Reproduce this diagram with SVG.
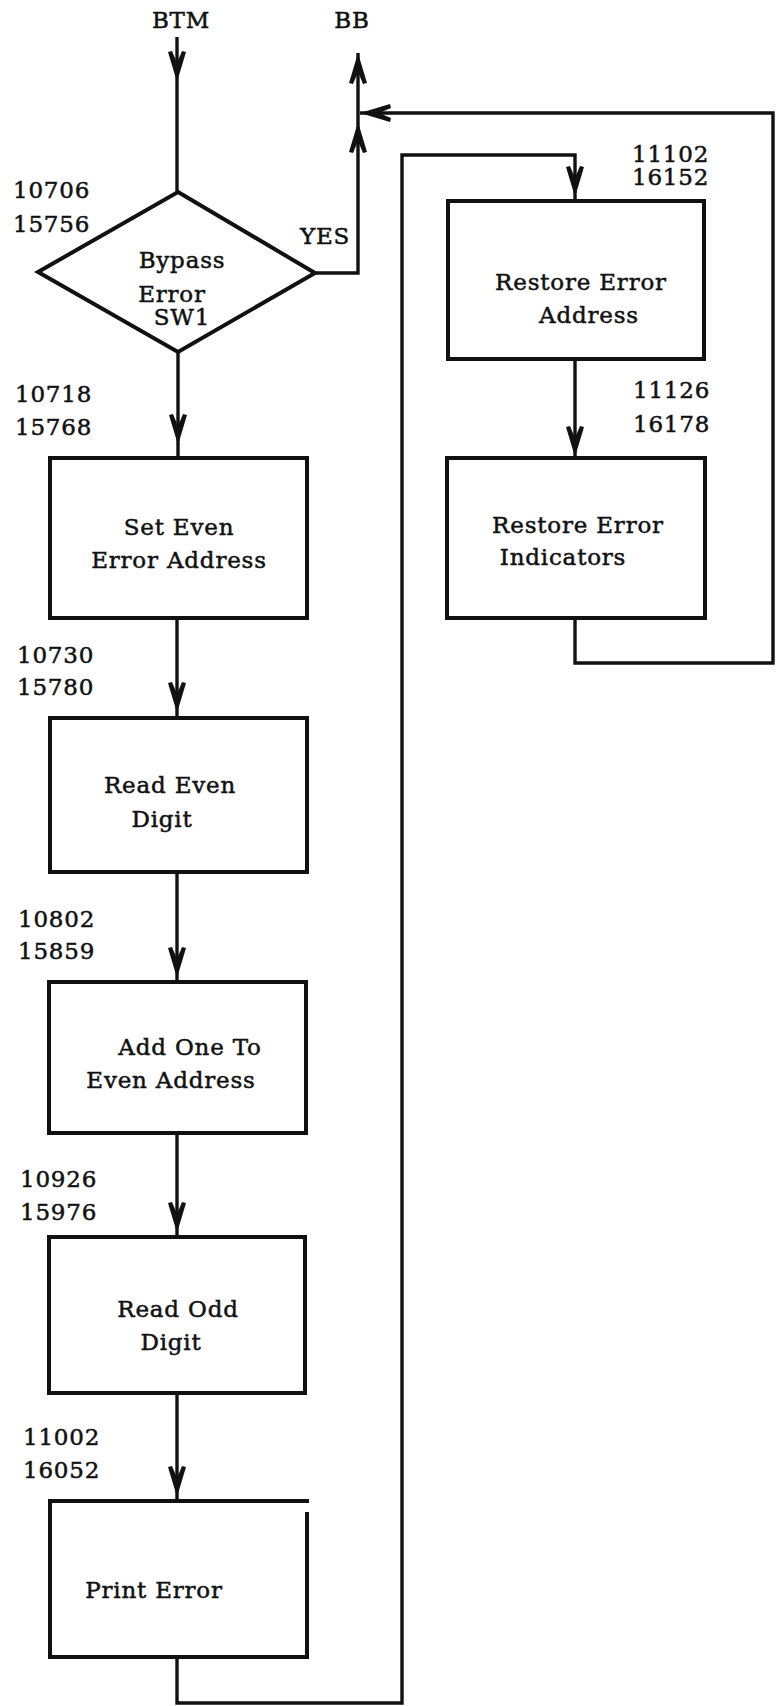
<svg xmlns="http://www.w3.org/2000/svg" xmlns:xlink="http://www.w3.org/1999/xlink" width="780" height="1706" viewBox="0 0 780 1706">
<style>
.box{fill:none;stroke:#111;stroke-width:4;stroke-linejoin:miter}
.ln{fill:none;stroke:#111;stroke-width:3.4;stroke-linejoin:miter}
.t{font-family:"DejaVu Serif","Liberation Serif",serif;font-size:23px;fill:#111;stroke:#111;stroke-width:0.5;letter-spacing:0.8px}
.m{text-anchor:middle}
.ah{fill:#111}
</style>
<defs>
<path id="ah" class="ah" d="M0,0 L-9,-30 L-5,-31 L0,-19 L5,-31 L9,-30 Z"/>
</defs>
<rect width="780" height="1706" fill="#fff"/>

<g id="connectors">
<path class="ln" d="M177,37 V192"/>
<use xlink:href="#ah" transform="translate(177,82)"/>
<path class="ln" d="M315,273 H358 V53"/>
<use xlink:href="#ah" transform="translate(358,53) rotate(180)"/>
<use xlink:href="#ah" transform="translate(358,122) rotate(180)"/>
<path class="ln" d="M178,352 V458"/>
<use xlink:href="#ah" transform="translate(178,445)"/>
<path class="ln" d="M177,618 V718"/>
<use xlink:href="#ah" transform="translate(177,713)"/>
<path class="ln" d="M177,872 V982"/>
<use xlink:href="#ah" transform="translate(177,978)"/>
<path class="ln" d="M177,1133 V1237"/>
<use xlink:href="#ah" transform="translate(177,1233)"/>
<path class="ln" d="M177,1393 V1501"/>
<use xlink:href="#ah" transform="translate(177,1497)"/>
<path class="ln" d="M177,1657 V1703 H402 V155 H575 V201"/>
<use xlink:href="#ah" transform="translate(575,197)"/>
<path class="ln" d="M575,359 V458"/>
<use xlink:href="#ah" transform="translate(575,457)"/>
<path class="ln" d="M575,618 V663 H773 V113 H360"/>
<use xlink:href="#ah" transform="translate(360,113) rotate(90)"/>
</g>

<g id="start">
<text class="t m" x="181" y="28">BTM</text>
</g>
<g id="exit">
<text class="t m" x="352" y="28">BB</text>
</g>

<g id="decision">
<path class="box" d="M178,192 L315,273 L178,352 L38,272 Z"/>
<text class="t" x="13" y="198">10706</text>
<text class="t" x="13" y="232">15756</text>
<text class="t m" x="182" y="268">Bypass</text>
<text class="t m" x="172" y="302">Error</text>
<text class="t m" x="182" y="325">SW1</text>
<text class="t m" x="325" y="244">YES</text>
</g>

<g id="set-even">
<rect class="box" x="50" y="458" width="257" height="160"/>
<text class="t" x="15" y="402">10718</text>
<text class="t" x="15" y="435">15768</text>
<text class="t m" x="179" y="535">Set Even</text>
<text class="t m" x="179" y="568">Error Address</text>
</g>

<g id="read-even">
<rect class="box" x="50" y="718" width="257" height="154"/>
<text class="t" x="17" y="663">10730</text>
<text class="t" x="17" y="695">15780</text>
<text class="t m" x="170" y="793">Read Even</text>
<text class="t m" x="162" y="827">Digit</text>
</g>

<g id="add-one">
<rect class="box" x="49" y="982" width="257" height="151"/>
<text class="t" x="18" y="927">10802</text>
<text class="t" x="18" y="959">15859</text>
<text class="t m" x="190" y="1055">Add One To</text>
<text class="t m" x="171" y="1088">Even Address</text>
</g>

<g id="read-odd">
<rect class="box" x="49" y="1237" width="256" height="156"/>
<text class="t" x="20" y="1187">10926</text>
<text class="t" x="20" y="1220">15976</text>
<text class="t m" x="178" y="1317">Read Odd</text>
<text class="t m" x="171" y="1350">Digit</text>
</g>

<g id="print-error">
<path class="box" d="M307,1512 V1657 H50 V1501 H309"/>
<text class="t" x="23" y="1445">11002</text>
<text class="t" x="23" y="1478">16052</text>
<text class="t m" x="154" y="1598">Print Error</text>
</g>

<g id="restore-address">
<rect class="box" x="448" y="201" width="256" height="158"/>
<text class="t" x="632" y="162">11102</text>
<text class="t" x="632" y="185">16152</text>
<text class="t m" x="581" y="290">Restore Error</text>
<text class="t m" x="589" y="323">Address</text>
</g>

<g id="restore-indicators">
<rect class="box" x="447" y="458" width="258" height="160"/>
<text class="t" x="633" y="398">11126</text>
<text class="t" x="633" y="432">16178</text>
<text class="t m" x="578" y="533">Restore Error</text>
<text class="t m" x="563" y="565">Indicators</text>
</g>
</svg>
